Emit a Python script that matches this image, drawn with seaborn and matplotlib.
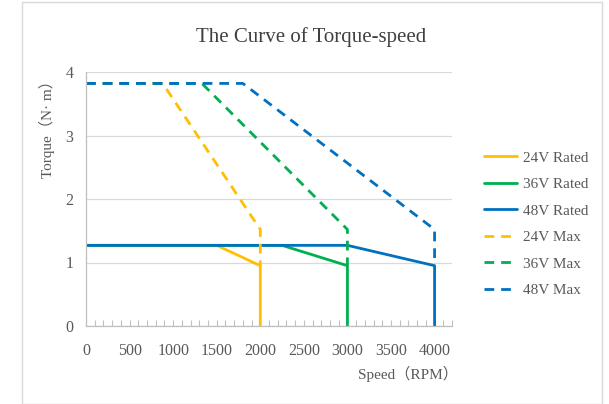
import numpy as np
import pandas as pd
import seaborn as sns
import matplotlib.pyplot as plt
from matplotlib.lines import Line2D
from matplotlib.patches import Rectangle

sns.set_theme(style='white')
plt.rcParams['font.family'] = ['Liberation Serif', 'Noto Sans CJK SC', 'DejaVu Sans']

# data
rated_24_x = [0, 1500, 2000, 2000]
rated_24_y = [1.27, 1.27, 0.95, 0]
rated_36_x = [0, 2250, 3000, 3000]
rated_36_y = [1.27, 1.27, 0.95, 0]
rated_48_x = [0, 3000, 4000, 4000]
rated_48_y = [1.27, 1.27, 0.95, 0]
max_24_x = [0, 880, 2000, 2000]
max_24_y = [3.82, 3.82, 1.52, 0.95]
max_36_x = [0, 1330, 3000, 3000]
max_36_y = [3.82, 3.82, 1.52, 0.95]
max_48_x = [0, 1800, 4000, 4000]
max_48_y = [3.82, 3.82, 1.52, 0.95]

x_ticks = [0, 500, 1000, 1500, 2000, 2500, 3000, 3500, 4000]
y_ticks = [0, 1, 2, 3, 4]

yellow, green, blue = '#FFC000', '#00B050', '#0070C0'
grey = '#595959'

series = [
    ('24V Rated', rated_24_x, rated_24_y, yellow, '-'),
    ('36V Rated', rated_36_x, rated_36_y, green, '-'),
    ('48V Rated', rated_48_x, rated_48_y, blue, '-'),
    ('24V Max', max_24_x, max_24_y, yellow, '--'),
    ('36V Max', max_36_x, max_36_y, green, '--'),
    ('48V Max', max_48_x, max_48_y, blue, '--'),
]

fig = plt.figure(figsize=(6.09, 4.04), dpi=100)
ax = fig.add_axes([86 / 609, 1 - 326 / 404, (452 - 86) / 609, (326 - 72) / 404])

handles = []
for name, xs, ys, col, ls in series:
    df = pd.DataFrame({'x': xs, 'y': ys})
    sns.lineplot(data=df, x='x', y='y', sort=False, estimator=None, color=col,
                 linewidth=2.0, ax=ax, legend=False)
    ax.lines[-1].set_linestyle(ls)
    if ls == '--':
        ax.lines[-1].set_dashes((3.5, 2.5))
    handles.append(Line2D([], [], color=col, lw=2.0, linestyle=ls,
                          dashes=(3.5, 2.5) if ls == '--' else (None, None)))

ax.set_xlim(0, 4200)
ax.set_ylim(0, 4)
ax.set_xticks(x_ticks)
ax.set_yticks(y_ticks)
ax.set_xticks(np.arange(0, 4201, 100), minor=True)
ax.tick_params(axis='x', which='both', direction='in', length=4, width=0.8,
               color='#BFBFBF', bottom=True, labelsize=11.5, labelcolor=grey, pad=12)
ax.tick_params(axis='y', length=0, labelsize=11.5, labelcolor=grey, pad=9)
ax.set_xlabel('')
ax.set_ylabel('')
ax.yaxis.grid(True, color='#D9D9D9', linewidth=0.9)
for s in ['top', 'right']:
    ax.spines[s].set_visible(False)
for s in ['left', 'bottom']:
    ax.spines[s].set_color('#BFBFBF')
    ax.spines[s].set_linewidth(0.9)

fig.text(311 / 609, 1 - 37 / 404, 'The Curve of Torque-speed', ha='center', va='center',
         fontsize=15, color='#404040')
fig.text(458 / 609, 1 - 374 / 404, 'Speed（RPM）', ha='right', va='center',
         fontsize=11, color=grey)
fig.text(47 / 609, 1 - 73 / 404, 'Torque（N· m）', ha='center', va='top',
         rotation=90, fontsize=11, color=grey)

fig.legend(handles, [s[0] for s in series], loc='center left',
           bbox_to_anchor=(470 / 609, 1 - 224 / 404), frameon=False,
           fontsize=11, labelcolor=grey, handlelength=2.2, labelspacing=0.84,
           handletextpad=0.35)

fig.patches.append(Rectangle((22 / 609, 0), (602 - 22) / 609, 1 - 2 / 404,
                             transform=fig.transFigure, fill=False,
                             edgecolor='#D9D9D9', linewidth=1))

fig.savefig('out.png', dpi=100)
